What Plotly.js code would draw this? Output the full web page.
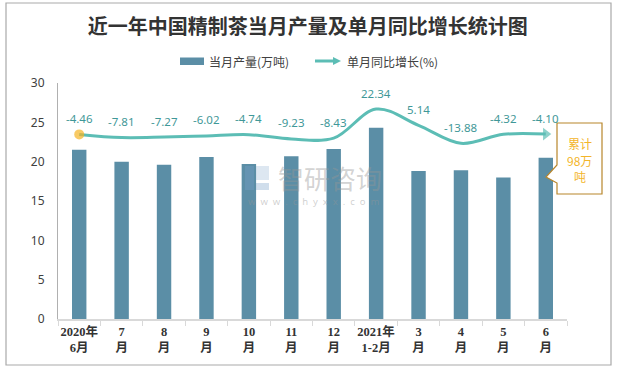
<!DOCTYPE html>
<html><head><meta charset="utf-8">
<script src="https://cdn.plot.ly/plotly-3.0.1.min.js"></script>
<style>html,body{margin:0;padding:0;background:#fff;}#chart{width:628px;height:369px;}</style>
</head><body><div id="chart"></div>
<script>
const categories = ["2020年<br>6月","7<br>月","8<br>月","9<br>月","10<br>月","11<br>月","12<br>月","2021年<br>1-2月","3<br>月","4<br>月","5<br>月","6<br>月"];
const output = [21.5, 20.0, 19.6, 20.6, 19.7, 20.7, 21.6, 24.3, 18.8, 18.9, 18.0, 20.5];
const growth = [-4.46, -7.81, -7.27, -6.02, -4.74, -9.23, -8.43, 22.34, 5.14, -13.88, -4.32, -4.10];
const growthLabels = ["-4.46","-7.81","-7.27","-6.02","-4.74","-9.23","-8.43","22.34","5.14","-13.88","-4.32","-4.10"];
const barName = "当月产量(万吨)";
const lineName = "单月同比增长(%)";
const calloutLines = ["累计","98万","吨"];

const n = categories.length;
const symbols = growth.map((v,i)=> i===n-1 ? 'triangle-right' : 'circle');
const sizes = growth.map((v,i)=> i===0 ? 10 : (i===n-1 ? 11 : 0));
const mcolors = growth.map((v,i)=> i===0 ? '#f5b324' : '#5cbdb5');

const traces = [
  {type:'bar', name:barName, x:categories, y:output, marker:{color:'#5b8ea6'}, width:0.34, hoverinfo:'skip', showlegend:false},
  {type:'scatter', mode:'lines+markers', name:lineName, x:categories, y:growth, yaxis:'y2',
   line:{color:'#5cbdb5', width:3, shape:'spline', smoothing:1}, cliponaxis:false, showlegend:false,
   marker:{symbol:symbols, size:sizes, color:mcolors, line:{width:0}}, hoverinfo:'skip'}
];

// plot area: x 58..567, y 83..319
const L=58, R=567, T=83, B=319;
const px = x => (x-L)/(R-L);
const py = y => (B-y)/(B-T);

const annotations = growth.map((v,i)=>({
  x:categories[i], y:v, xref:'x', yref:'y2', text:growthLabels[i], showarrow:false,
  yshift:16, font:{family:'Noto Sans, Noto Sans CJK SC', size:11.5, color:'#3f9898'}
}));
calloutLines.forEach((t,i)=>{
  annotations.push({xref:'paper', yref:'paper', x:px(579.5), y:py(143.5+16.5*i), xanchor:'center', yanchor:'middle', text:t, showarrow:false,
    font:{family:'Noto Sans CJK SC', size:12, color:'#f3b52a'}, height:15});
});
annotations.push({xref:'paper', yref:'paper', x:px(330), y:py(177), text:'智研咨询', showarrow:false,
  font:{family:'Noto Sans CJK SC', size:26, color:'rgba(150,150,150,0.42)'}, height:30});
annotations.push({xref:'paper', yref:'paper', x:px(313), y:py(201), text:'w  w  w  .  c  h  y  x  x  .  c  o  m', showarrow:false,
  font:{family:'Noto Sans', size:9.5, color:'rgba(150,150,150,0.45)'}, height:12});
// custom legend texts
annotations.push({xref:'paper', yref:'paper', x:px(207), y:py(61), xanchor:'left', yanchor:'middle', text:barName, showarrow:false,
  font:{family:'Noto Sans CJK SC', size:12, color:'#404040'}});
annotations.push({xref:'paper', yref:'paper', x:px(345), y:py(61), xanchor:'left', yanchor:'middle', text:lineName, showarrow:false,
  font:{family:'Noto Sans CJK SC', size:12, color:'#404040'}});

const path = `M ${px(557)} ${py(123)} L ${px(602)} ${py(123)} L ${px(602)} ${py(194)} L ${px(557)} ${py(194)} L ${px(557)} ${py(183)} L ${px(546)} ${py(177)} L ${px(557)} ${py(165)} Z`;
const arrowPath = `M ${px(333)} ${py(57)} L ${px(341)} ${py(61)} L ${px(333)} ${py(65)} Z`;

const shapes = [
  {type:'rect', xref:'paper', yref:'paper', x0:px(6), x1:px(611), y0:py(3), y1:py(365), line:{color:'#a9a9a9', width:1.2}, fillcolor:'rgba(0,0,0,0)', layer:'below'},
  {type:'path', xref:'paper', yref:'paper', path:path, line:{color:'#b8862b', width:1.2}, fillcolor:'#ffffff', layer:'above'},
  {type:'rect', xref:'paper', yref:'paper', x0:px(245), x1:px(254), y0:py(190), y1:py(166), line:{width:0}, fillcolor:'rgba(120,160,200,0.35)'},
  {type:'rect', xref:'paper', yref:'paper', x0:px(256), x1:px(269), y0:py(190), y1:py(183), line:{width:0}, fillcolor:'rgba(120,160,200,0.35)'},
  {type:'rect', xref:'paper', yref:'paper', x0:px(256), x1:px(269), y0:py(180), y1:py(166), line:{width:0}, fillcolor:'rgba(120,160,200,0.25)'},
  // legend swatches
  {type:'rect', xref:'paper', yref:'paper', x0:px(180), x1:px(204), y0:py(57.5), y1:py(65), line:{width:0}, fillcolor:'#5b8ea6'},
  {type:'line', xref:'paper', yref:'paper', x0:px(315), x1:px(335), y0:py(61), y1:py(61), line:{color:'#5cbdb5', width:3}},
  {type:'path', xref:'paper', yref:'paper', path:arrowPath, line:{width:0}, fillcolor:'#5cbdb5'}
];

const layout = {
  width:628, height:369, margin:{l:L, r:628-R, t:T, b:369-B},
  paper_bgcolor:'#fff', plot_bgcolor:'#fff',
  title:{text:'近一年中国精制茶当月产量及单月同比增长统计图', x:0.49, xanchor:'center', y:0.928, yanchor:'middle',
    font:{family:'Noto Sans CJK SC', size:20, color:'#333', weight:'bold'}},
  showlegend:false,
  bargap:0.66,
  xaxis:{type:'category', range:[-0.5, n-0.5], autorange:false, showline:true, linecolor:'#d9d9d9', linewidth:1.5, ticks:'outside', tickson:'boundaries',
    ticklen:5, tickcolor:'#d9d9d9', showgrid:false, zeroline:false, fixedrange:true, tickangle:0,
    tickfont:{family:'Liberation Serif, Noto Sans CJK SC', size:12.5, color:'#333', weight:'bold'}},
  yaxis:{range:[0,30], dtick:5, showline:true, linecolor:'#b0b0b0', linewidth:1, showgrid:false, zeroline:false,
    ticks:'', ticklabelstandoff:10, tickfont:{family:'Noto Sans', size:12, color:'#404040'}},
  yaxis2:{overlaying:'y', side:'right', range:[-200,50], visible:false, showgrid:false, zeroline:false},
  annotations:annotations, shapes:shapes
};

Plotly.newPlot('chart', traces, layout, {displayModeBar:false, staticPlot:true});
</script></body></html>
